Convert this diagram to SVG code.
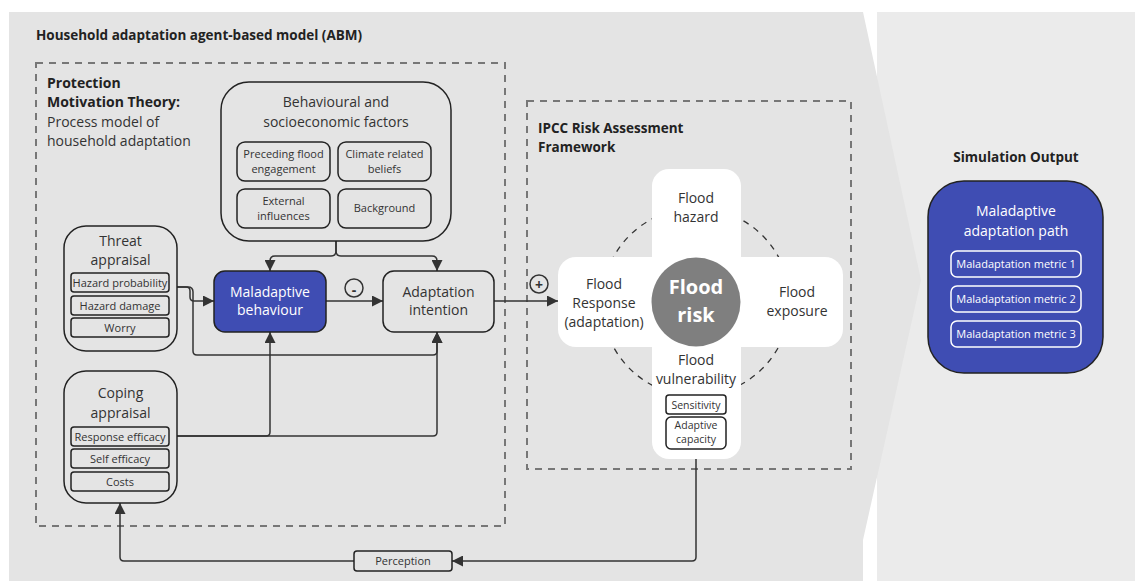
<svg xmlns="http://www.w3.org/2000/svg" width="1135" height="581" viewBox="0 0 1135 581">
  <style>
    text { font-family: "Open Sans", "Noto Sans", "Liberation Sans", sans-serif; fill: #333; }
    .h { font-weight: 700; font-size: 13.5px; fill: #222; }
    .t14 { font-size: 14px; }
    .t11 { font-size: 11px; }
    .mid { text-anchor: middle; }
    .box { fill: #e4e4e4; stroke: #222; stroke-width: 1.5; }
    .sub { fill: #e4e4e4; stroke: #222; stroke-width: 1.5; }
    .blue { fill: #3f4db3; stroke: #222; stroke-width: 1.5; }
    .wsub { fill: none; stroke: #fff; stroke-width: 1.5; }
    .white { fill: #fff; }
    .frame { fill: none; stroke: #777; stroke-width: 2; stroke-dasharray: 7 6; }
    .wire { fill: none; stroke: #333; stroke-width: 1.5; }
    .arr { marker-end: url(#head); }
    .inv { fill: #fff; }
  </style>
  <defs>
    <marker id="head" viewBox="0 0 10 10" refX="10" refY="5" markerWidth="11" markerHeight="11" markerUnits="userSpaceOnUse" orient="auto">
      <path d="M0,0 L10,5 L0,10 Z" fill="#333"/>
    </marker>
  </defs>

  <!-- background panels -->
  <rect x="877" y="12" width="258" height="569" fill="#ebebeb"/>
  <path d="M9,12 H863 L921,280 L863,540 V581 H9 Z" fill="#e4e4e4"/>

  <!-- section frames -->
  <text class="h" x="36" y="40">Household adaptation agent-based model (ABM)</text>
  <rect class="frame" x="36" y="63" width="469" height="463"/>
  <g id="pmt-label">
    <text class="t14" x="47" y="88" font-weight="700" style="fill:#222">Protection</text>
    <text class="t14" x="47" y="107" font-weight="700" style="fill:#222">Motivation Theory:</text>
    <text class="t14" x="47" y="127">Process model of</text>
    <text class="t14" x="47" y="146">household adaptation</text>
  </g>
  <rect class="frame" x="527" y="101" width="324" height="368"/>
  <g id="ipcc-label">
    <text class="h" x="538" y="133">IPCC Risk Assessment</text>
    <text class="h" x="538" y="152">Framework</text>
  </g>

  <!-- connectors -->
  <g id="connectors">
    <path class="wire arr" d="M336,241 V251 Q336,256 331,256 H275 Q270,256 270,261 V271"/>
    <path class="wire arr" d="M336,241 V251 Q336,256 341,256 H432 Q437,256 437,261 V271"/>
    <path class="wire arr" d="M177,287 H186 Q190,287 190,291 V297 Q190,301 194,301 H214"/>
    <path class="wire arr" d="M177,287 H188 Q193,287 193,292 V351 Q193,355 197,355 H433 Q437,355 437,351 V332"/>
    <path class="wire arr" d="M177,436 H266 Q270,436 270,432 V332"/>
    <path class="wire arr" d="M177,436 H433 Q437,436 437,432 V332"/>
    <path class="wire arr" d="M326,301 H383"/>
    <path class="wire arr" d="M494,301 H558"/>
    <path class="wire arr" d="M696,449 V557 Q696,561 692,561 H452"/>
    <path class="wire arr" d="M354,561 H124 Q120,561 120,557 V503"/>
    <circle class="wire" cx="354" cy="288" r="9"/>
    <text class="t14 mid" x="354" y="295" font-weight="700">-</text>
    <circle class="wire" cx="539" cy="284" r="9"/>
    <text class="t14 mid" x="539" y="290" font-weight="700">+</text>
  </g>

  <!-- behavioural and socioeconomic factors -->
  <g id="factors">
    <rect class="box" x="221" y="82" width="230" height="159" rx="28"/>
    <text class="t14 mid" x="336" y="107">Behavioural and</text>
    <text class="t14 mid" x="336" y="127">socioeconomic factors</text>
    <rect class="sub" x="237" y="142" width="93" height="39" rx="8"/>
    <text class="t11 mid" x="283.5" y="158">Preceding flood</text>
    <text class="t11 mid" x="283.5" y="173">engagement</text>
    <rect class="sub" x="338" y="142" width="93" height="39" rx="8"/>
    <text class="t11 mid" x="384.5" y="158">Climate related</text>
    <text class="t11 mid" x="384.5" y="173">beliefs</text>
    <rect class="sub" x="237" y="189" width="93" height="39" rx="8"/>
    <text class="t11 mid" x="283.5" y="205">External</text>
    <text class="t11 mid" x="283.5" y="220">influences</text>
    <rect class="sub" x="338" y="189" width="93" height="39" rx="8"/>
    <text class="t11 mid" x="384.5" y="212">Background</text>
  </g>

  <!-- threat appraisal -->
  <g id="threat">
    <rect class="box" x="64" y="226" width="113" height="125" rx="22"/>
    <text class="t14 mid" x="120.5" y="246">Threat</text>
    <text class="t14 mid" x="120.5" y="265">appraisal</text>
    <rect class="sub" x="71" y="273" width="98" height="19" rx="3"/>
    <text class="t11 mid" x="120" y="286.5">Hazard probability</text>
    <rect class="sub" x="71" y="296" width="98" height="19" rx="3"/>
    <text class="t11 mid" x="120" y="309.5">Hazard damage</text>
    <rect class="sub" x="71" y="318" width="98" height="19" rx="3"/>
    <text class="t11 mid" x="120" y="331.5">Worry</text>
  </g>

  <!-- coping appraisal -->
  <g id="coping">
    <rect class="box" x="64" y="371" width="113" height="132" rx="22"/>
    <text class="t14 mid" x="120.5" y="398">Coping</text>
    <text class="t14 mid" x="120.5" y="418">appraisal</text>
    <rect class="sub" x="71" y="427" width="98" height="19" rx="3"/>
    <text class="t11 mid" x="120" y="440.5">Response efficacy</text>
    <rect class="sub" x="71" y="449" width="98" height="19" rx="3"/>
    <text class="t11 mid" x="120" y="462.5">Self efficacy</text>
    <rect class="sub" x="71" y="472" width="98" height="19" rx="3"/>
    <text class="t11 mid" x="120" y="485.5">Costs</text>
  </g>

  <!-- maladaptive behaviour -->
  <g id="maladaptive">
    <rect class="blue" x="214" y="271" width="112" height="61" rx="11"/>
    <text class="t14 mid inv" x="270" y="297">Maladaptive</text>
    <text class="t14 mid inv" x="270" y="315">behaviour</text>
  </g>

  <!-- adaptation intention -->
  <g id="intention">
    <rect class="box" x="383" y="271" width="111" height="61" rx="11"/>
    <text class="t14 mid" x="438.5" y="297">Adaptation</text>
    <text class="t14 mid" x="438.5" y="315">intention</text>
  </g>

  <!-- flood risk cross -->
  <g id="flood-risk">
    <circle cx="696" cy="302" r="94" fill="none" stroke="#333" stroke-width="1.3" stroke-dasharray="6 6"/>
    <rect class="white" x="652" y="169" width="89" height="290" rx="17"/>
    <rect class="white" x="558" y="257" width="285" height="90" rx="18"/>
    <circle cx="696" cy="302" r="44.5" fill="#7f7f7f"/>
    <text class="mid inv" x="696" y="294" font-size="20" font-weight="700">Flood</text>
    <text class="mid inv" x="696" y="322" font-size="20" font-weight="700">risk</text>
  </g>
  <g id="hazard">
    <text class="t14 mid" x="696" y="203">Flood</text>
    <text class="t14 mid" x="696" y="222">hazard</text>
  </g>
  <g id="response">
    <text class="t14 mid" x="604" y="289">Flood</text>
    <text class="t14 mid" x="604" y="308">Response</text>
    <text class="t14 mid" x="604" y="327">(adaptation)</text>
  </g>
  <g id="exposure">
    <text class="t14 mid" x="797" y="297">Flood</text>
    <text class="t14 mid" x="797" y="316">exposure</text>
  </g>
  <g id="vulnerability">
    <text class="t14 mid" x="696" y="365">Flood</text>
    <text class="t14 mid" x="696" y="384">vulnerability</text>
    <rect class="sub" x="666" y="395" width="60" height="19" rx="3" style="fill:#fff"/>
    <text class="mid" x="696" y="408.5" font-size="10.5">Sensitivity</text>
    <rect class="sub" x="666" y="417" width="60" height="32" rx="5" style="fill:#fff"/>
    <text class="mid" x="696" y="429" font-size="10.5">Adaptive</text>
    <text class="mid" x="696" y="443" font-size="10.5">capacity</text>
  </g>

  <!-- perception -->
  <g id="perception">
    <rect class="sub" x="354" y="551" width="98" height="20" rx="3"/>
    <text class="t11 mid" x="403" y="565">Perception</text>
  </g>

  <!-- simulation output -->
  <g id="output">
    <text class="h mid" x="1016" y="162">Simulation Output</text>
    <rect class="blue" x="928" y="181" width="175" height="192" rx="36"/>
    <text class="t14 mid inv" x="1016" y="216">Maladaptive</text>
    <text class="t14 mid inv" x="1016" y="236">adaptation path</text>
    <rect class="wsub" x="951" y="251" width="130" height="26" rx="6"/>
    <text class="t11 mid inv" x="1016" y="268">Maladaptation metric 1</text>
    <rect class="wsub" x="951" y="286" width="130" height="26" rx="6"/>
    <text class="t11 mid inv" x="1016" y="303">Maladaptation metric 2</text>
    <rect class="wsub" x="951" y="321" width="130" height="26" rx="6"/>
    <text class="t11 mid inv" x="1016" y="338">Maladaptation metric 3</text>
  </g>
</svg>
